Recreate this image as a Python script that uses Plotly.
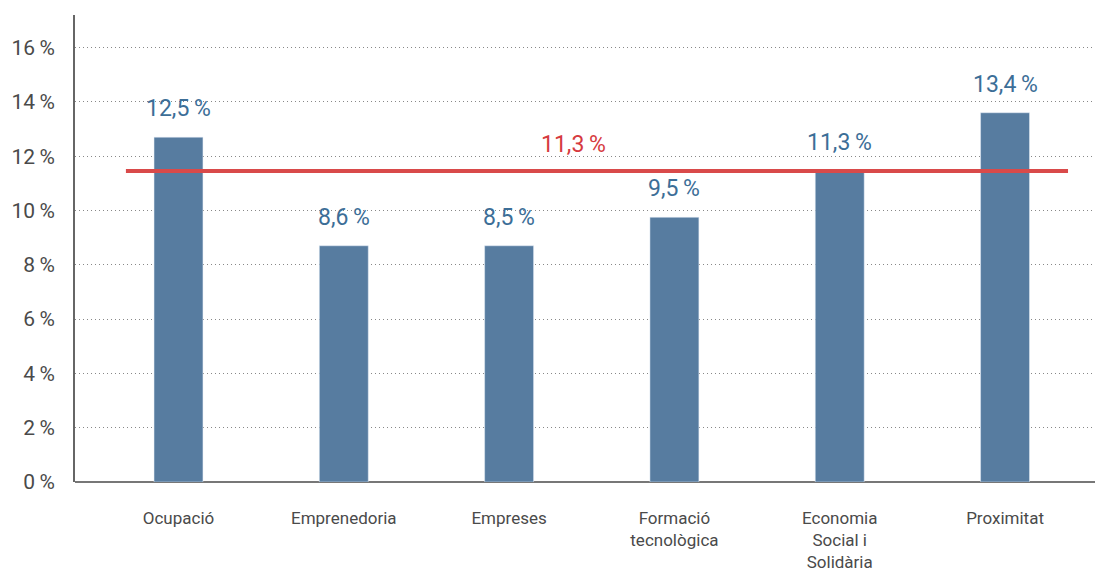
import plotly.graph_objects as go

categories = ["Ocupació", "Emprenedoria", "Empreses", "Formació<br>tecnològica",
              "Economia<br>Social i<br>Solidària", "Proximitat"]
bar_values = [12.7, 8.7, 8.7, 9.75, 11.45, 13.6]
bar_labels = ["12,5\u2009%", "8,6\u2009%", "8,5\u2009%", "9,5\u2009%", "11,3\u2009%", "13,4\u2009%"]
avg_value = 11.45
avg_label = "11,3\u2009%"
y_ticks = [0, 2, 4, 6, 8, 10, 12, 14, 16]
y_ticktext = [f"{v}\u2009%" for v in y_ticks]

FONT = "Roboto"
BAR_COLOR = "#577ca0"
LABEL_COLOR = "#3c6e97"
RED = "#d94a4a"
GRAY = "#4a4a4a"

xs = list(range(len(categories)))

fig = go.Figure()
fig.add_trace(go.Bar(x=xs, y=bar_values, width=0.296, marker_color=BAR_COLOR,
                     hoverinfo="skip", showlegend=False))
fig.add_trace(go.Scatter(x=[-0.318, 5.381], y=[avg_value, avg_value], mode="lines",
                         line=dict(color=RED, width=4), hoverinfo="skip", showlegend=False))

for x, v, t in zip(xs, bar_values, bar_labels):
    fig.add_annotation(x=x, y=v, text=t, showarrow=False, yanchor="bottom", yshift=13,
                       font=dict(family=FONT, size=23, color=LABEL_COLOR))
fig.add_annotation(x=2.39, y=avg_value, text=avg_label, showarrow=False, yanchor="bottom",
                   yshift=11, font=dict(family=FONT, size=23, color="#d63a40"))

fig.update_layout(
    width=1103, height=574,
    margin=dict(l=67, r=0, t=7, b=100),
    paper_bgcolor="white", plot_bgcolor="white",
    font=dict(family=FONT, color=GRAY),
    xaxis=dict(range=[-0.626, 5.641], tickvals=xs, ticktext=categories,
               tickfont=dict(family=FONT, size=17, color=GRAY),
               showgrid=False, zeroline=False, showline=False, ticks="",
               ticklabelstandoff=24, automargin=False),
    yaxis=dict(range=[0, 17.2], tickvals=y_ticks, ticktext=y_ticktext,
               tickfont=dict(family=FONT, size=21, color=GRAY),
               showgrid=True, gridcolor="#888888", griddash="1px,3px", gridwidth=1,
               zeroline=True, zerolinecolor="#777777", zerolinewidth=2,
               showline=True, linecolor="#666666", linewidth=2,
               ticks="", ticklabelstandoff=14, automargin=False),
)

fig.write_html("out.html")
